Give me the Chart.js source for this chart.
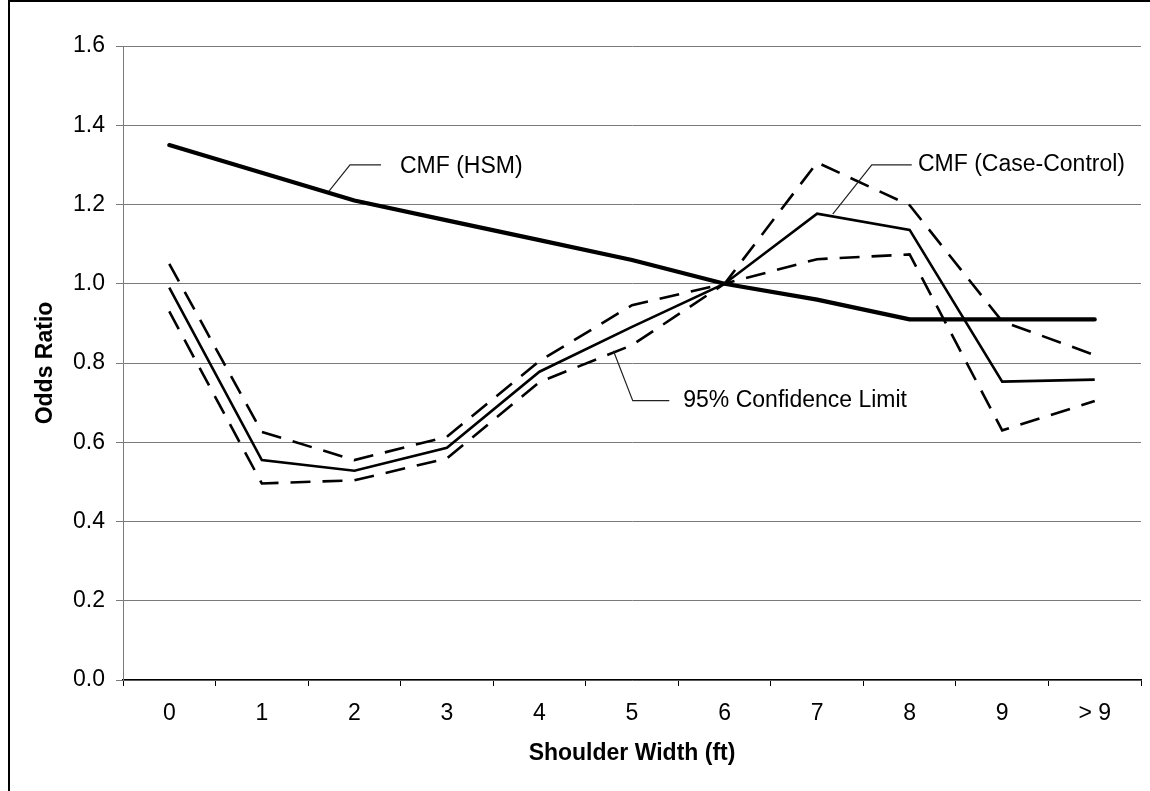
<!DOCTYPE html>
<html>
<head>
<meta charset="utf-8">
<script src="https://cdn.jsdelivr.net/npm/chart.js@4/dist/chart.umd.min.js"></script>
<style>
  html, body { margin: 0; padding: 0; background: #fff; }
  #wrap { position: relative; width: 1150px; height: 791px; }
  canvas { display: block; }
</style>
</head>
<body>
<div id="wrap"><canvas id="chart" width="1150" height="791"></canvas></div>
<script>
// Shoulder width categories (ft)
const categories = ['0', '1', '2', '3', '4', '5', '6', '7', '8', '9', '> 9'];

// Crash modification factor from the Highway Safety Manual
const cmfHSM = [1.35, 1.28, 1.21, 1.16, 1.11, 1.06, 1.00, 0.96, 0.91, 0.91, 0.91];

// Case-control odds ratios and their 95% confidence limits
const cmfCaseControl = [0.99, 0.555, 0.528, 0.586, 0.778, 0.891, 1.00, 1.177, 1.136, 0.753, 0.758];
const upperLimit = [1.05, 0.626, 0.555, 0.614, 0.805, 0.946, 1.00, 1.306, 1.198, 0.905, 0.82];
const lowerLimit = [0.93, 0.496, 0.504, 0.559, 0.752, 0.845, 1.00, 1.062, 1.074, 0.63, 0.704];

// Y axis tick values
const yTicks = [0.0, 0.2, 0.4, 0.6, 0.8, 1.0, 1.2, 1.4, 1.6];

const FONT = "'Liberation Sans', Arial, Helvetica, sans-serif";

// Callout labels: leader line from a point on the curve, via an elbow, to the text
// (x in category index units, y in odds-ratio units)
const callouts = [
  { text: 'CMF (HSM)',          from: [1.726, 1.234], elbow: [1.953, 1.300], to: 2.288, textX: 2.493, textY: 1.295 },
  { text: 'CMF (Case-Control)', from: [7.169, 1.176], elbow: [7.591, 1.300], to: 8.023, textX: 8.090, textY: 1.300 },
  { text: '95% Confidence Limit', from: [4.799, 0.831], elbow: [5.008, 0.705], to: 5.403, textX: 5.554, textY: 0.705 }
];

const calloutPlugin = {
  id: 'callouts',
  afterDatasetsDraw(chart) {
    const { ctx, scales: { x, y } } = chart;
    ctx.save();
    ctx.strokeStyle = '#222';
    ctx.lineWidth = 1.2;
    ctx.font = '23px ' + FONT;
    ctx.fillStyle = '#000';
    ctx.textBaseline = 'middle';
    ctx.textAlign = 'left';
    callouts.forEach(c => {
      ctx.beginPath();
      ctx.moveTo(x.getPixelForValue(c.from[0]), y.getPixelForValue(c.from[1]));
      ctx.lineTo(x.getPixelForValue(c.elbow[0]), y.getPixelForValue(c.elbow[1]));
      ctx.lineTo(x.getPixelForValue(c.to), y.getPixelForValue(c.elbow[1]));
      ctx.stroke();
      ctx.fillText(c.text, x.getPixelForValue(c.textX), y.getPixelForValue(c.textY));
    });
    ctx.restore();
  }
};

const framePlugin = {
  id: 'frame',
  beforeDraw(chart) {
    const { ctx } = chart;
    ctx.save();
    ctx.fillStyle = '#fff';
    ctx.fillRect(0, 0, chart.width, chart.height);
    ctx.strokeStyle = '#000';
    ctx.lineWidth = 2;
    ctx.beginPath();
    ctx.moveTo(9, chart.height + 2);
    ctx.lineTo(9, 1);
    ctx.lineTo(chart.width + 2, 1);
    ctx.stroke();
    ctx.restore();
  }
};

new Chart(document.getElementById('chart'), {
  type: 'line',
  data: {
    labels: categories,
    datasets: [
      {
        label: 'CMF (HSM)',
        data: cmfHSM,
        borderColor: '#000',
        borderWidth: 4.2,
        borderCapStyle: 'round',
        borderJoinStyle: 'round',
        pointRadius: 0,
        tension: 0,
        fill: false
      },
      {
        label: 'CMF (Case-Control)',
        data: cmfCaseControl,
        borderColor: '#000',
        borderWidth: 2.6,
        borderJoinStyle: 'miter',
        pointRadius: 0,
        tension: 0,
        fill: false
      },
      {
        label: 'Upper 95% Confidence Limit',
        data: upperLimit,
        borderColor: '#000',
        borderWidth: 2.6,
        borderDash: [20, 12],
        pointRadius: 0,
        tension: 0,
        fill: false
      },
      {
        label: 'Lower 95% Confidence Limit',
        data: lowerLimit,
        borderColor: '#000',
        borderWidth: 2.6,
        borderDash: [20, 12],
        pointRadius: 0,
        tension: 0,
        fill: false
      }
    ]
  },
  options: {
    responsive: false,
    animation: false,
    events: [],
    layout: { padding: { left: 0, top: 46, right: 9, bottom: 0 } },
    plugins: {
      legend: { display: false },
      tooltip: { enabled: false },
      title: { display: false }
    },
    scales: {
      x: {
        type: 'category',
        offset: true,
        grid: {
          offset: true,
          drawOnChartArea: false,
          drawTicks: true,
          tickLength: 6,
          color: '#000'
        },
        border: { color: '#000', width: 1.3 },
        ticks: {
          color: '#000',
          font: { family: FONT, size: 23 },
          padding: 14,
          maxRotation: 0,
          autoSkip: false
        },
        title: {
          display: true,
          text: 'Shoulder Width (ft)',
          color: '#000',
          font: { family: FONT, size: 23, weight: 'bold' },
          padding: { top: 0, bottom: 24 }
        },
        afterFit(scale) { scale.height = 111; }
      },
      y: {
        type: 'linear',
        min: 0,
        max: 1.6,
        afterBuildTicks(scale) {
          scale.ticks = yTicks.map(v => ({ value: v }));
        },
        grid: {
          color: '#7a7a7a',
          lineWidth: 1,
          drawTicks: true,
          tickLength: 7
        },
        border: { color: '#7a7a7a', width: 1 },
        ticks: {
          color: '#000',
          font: { family: FONT, size: 23 },
          padding: 11,
          callback: v => Number(v).toFixed(1)
        },
        title: {
          display: true,
          text: 'Odds Ratio',
          color: '#000',
          font: { family: FONT, size: 23, weight: 'bold' },
          padding: { top: 32, bottom: 0 }
        },
        afterFit(scale) { scale.width = 123; }
      }
    }
  },
  plugins: [framePlugin, calloutPlugin]
});
</script>
</body>
</html>
